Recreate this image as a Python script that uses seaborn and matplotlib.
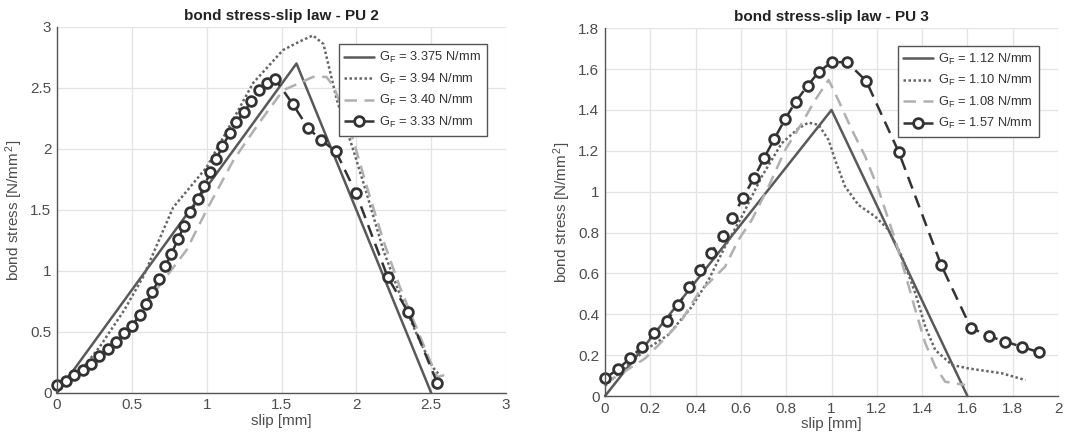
import numpy as np
import pandas as pd
import matplotlib
matplotlib.use("Agg")
import matplotlib.pyplot as plt
import seaborn as sns

# ---------------- data: PU 2 ----------------
pu2_lin_x = [0.0, 1.6, 2.5]
pu2_lin_y = [0.0, 2.7, 0.0]

pu2_dot_x = [0.0, 0.15, 0.285, 0.45, 0.575, 0.776, 1.0, 1.15, 1.31, 1.51, 1.62, 1.71, 1.78, 1.87, 1.98, 2.07, 2.18, 2.29, 2.40, 2.51, 2.56]
pu2_dot_y = [0.05, 0.17, 0.377, 0.68, 0.95, 1.52, 1.85, 2.18, 2.54, 2.81, 2.88, 2.93, 2.86, 2.40, 1.99, 1.63, 1.17, 0.81, 0.49, 0.21, 0.14]

pu2_dash_x = [0.0, 0.3, 0.5, 0.66, 0.865, 1.0, 1.18, 1.36, 1.51, 1.62, 1.71, 1.80, 1.85, 1.98, 2.07, 2.18, 2.29, 2.40, 2.49, 2.54, 2.63]
pu2_dash_y = [0.05, 0.28, 0.55, 0.84, 1.17, 1.50, 1.91, 2.23, 2.48, 2.54, 2.59, 2.59, 2.51, 2.07, 1.69, 1.25, 0.87, 0.54, 0.27, 0.13, 0.16]

pu2_exp_x = [0.0, 0.058, 0.111, 0.174, 0.229, 0.281, 0.341, 0.392, 0.446, 0.504, 0.553, 0.593, 0.637, 0.682,
             0.724, 0.764, 0.809, 0.849, 0.891, 0.943, 0.985, 1.025, 1.065, 1.105, 1.155, 1.199, 1.248, 1.299,
             1.351, 1.40, 1.458, 1.574, 1.678, 1.767, 1.863, 1.997, 2.209, 2.347, 2.541]
pu2_exp_y = [0.063, 0.10, 0.145, 0.19, 0.24, 0.30, 0.36, 0.42, 0.49, 0.55, 0.64, 0.73, 0.83, 0.93,
             1.04, 1.14, 1.26, 1.37, 1.48, 1.59, 1.70, 1.81, 1.92, 2.02, 2.13, 2.22, 2.30, 2.39,
             2.48, 2.54, 2.57, 2.37, 2.17, 2.07, 1.98, 1.64, 0.95, 0.66, 0.08]

pu2_labels = [r"G$_F$ = 3.375 N/mm", r"G$_F$ = 3.94 N/mm", r"G$_F$ = 3.40 N/mm", r"G$_F$ = 3.33 N/mm"]

# ---------------- data: PU 3 ----------------
pu3_lin_x = [0.0, 1.0, 1.6]
pu3_lin_y = [0.0, 1.4, 0.0]

pu3_dot_x = [0.0, 0.08, 0.177, 0.28, 0.383, 0.457, 0.53, 0.604, 0.692, 0.78, 0.854, 0.898, 0.943, 0.987, 1.016,
             1.06, 1.119, 1.193, 1.252, 1.311, 1.37, 1.414, 1.458, 1.532, 1.605, 1.753, 1.856]
pu3_dot_y = [0.05, 0.13, 0.225, 0.30, 0.437, 0.568, 0.731, 0.878, 1.074, 1.237, 1.31, 1.338, 1.327, 1.253, 1.155,
             1.025, 0.935, 0.878, 0.813, 0.682, 0.503, 0.339, 0.225, 0.152, 0.135, 0.111, 0.078]

pu3_dash_x = [0.0, 0.074, 0.177, 0.265, 0.339, 0.412, 0.471, 0.53, 0.589, 0.648, 0.722, 0.795, 0.869, 0.928, 0.987,
              1.016, 1.09, 1.149, 1.208, 1.281, 1.325, 1.37, 1.414, 1.458, 1.502, 1.59]
pu3_dash_y = [0.062, 0.111, 0.184, 0.282, 0.372, 0.503, 0.568, 0.633, 0.764, 0.862, 1.025, 1.204, 1.335, 1.449, 1.547,
              1.482, 1.302, 1.172, 1.008, 0.764, 0.60, 0.421, 0.258, 0.144, 0.07, 0.054]

pu3_exp_x = [0.0, 0.056, 0.110, 0.165, 0.218, 0.274, 0.324, 0.373, 0.420, 0.468, 0.520, 0.562, 0.608, 0.657, 0.702,
             0.748, 0.795, 0.842, 0.894, 0.945, 1.001, 1.068, 1.153, 1.296, 1.484, 1.615, 1.694, 1.767, 1.841, 1.915]
pu3_exp_y = [0.086, 0.131, 0.184, 0.242, 0.307, 0.369, 0.446, 0.532, 0.617, 0.702, 0.783, 0.873, 0.968, 1.066, 1.164,
             1.260, 1.355, 1.441, 1.518, 1.588, 1.634, 1.634, 1.542, 1.196, 0.641, 0.334, 0.294, 0.266, 0.241, 0.214]

pu3_labels = [r"G$_F$ = 1.12 N/mm", r"G$_F$ = 1.10 N/mm", r"G$_F$ = 1.08 N/mm", r"G$_F$ = 1.57 N/mm"]

# ---------------- style ----------------
sns.set_theme(style="whitegrid")
plt.rcParams["font.family"] = ["Liberation Sans", "DejaVu Sans"]
plt.rcParams["mathtext.default"] = "regular"
plt.rcParams["mathtext.fontset"] = "custom"
plt.rcParams["mathtext.rm"] = "Liberation Sans"

TXT = "#4d4d4d"
C_LIN = "#595959"
C_DOT = "#666666"
C_DASH = "#b0b0b0"
C_EXP = "#333333"

fig = plt.figure(figsize=(10.71, 4.41), dpi=100)
ax1 = fig.add_axes([0.0532, 0.109, 0.4193, 0.830])
ax2 = fig.add_axes([0.5649, 0.102, 0.4230, 0.834])


def draw(ax, lin, dot, dash, exp, labels):
    sns.lineplot(x=lin[0], y=lin[1], ax=ax, color=C_LIN, lw=1.8, sort=False, estimator=None, label=labels[0])
    sns.lineplot(x=dot[0], y=dot[1], ax=ax, color=C_DOT, lw=1.8, linestyle=(0, (1, 1)), sort=False,
                 estimator=None, label=labels[1])
    sns.lineplot(x=dash[0], y=dash[1], ax=ax, color=C_DASH, lw=1.8, linestyle=(0, (5, 3)), sort=False,
                 estimator=None, label=labels[2])
    sns.lineplot(x=exp[0], y=exp[1], ax=ax, color=C_EXP, lw=1.8, linestyle=(0, (5, 3)), sort=False,
                 estimator=None, marker="o", markersize=7, markerfacecolor="white",
                 markeredgecolor=C_EXP, markeredgewidth=2.0, label=labels[3])


def style(ax, title, xlim, ylim, xticks, yticks, xtl, ytl):
    ax.set_xlim(*xlim)
    ax.set_ylim(*ylim)
    ax.set_xticks(xticks)
    ax.set_yticks(yticks)
    ax.set_xticklabels(xtl)
    ax.set_yticklabels(ytl)
    ax.grid(True, color="#e3e3e3", lw=0.9)
    ax.set_facecolor("white")
    for s in ["top", "right"]:
        ax.spines[s].set_visible(False)
    for s in ["left", "bottom"]:
        ax.spines[s].set_color("#555555")
        ax.spines[s].set_linewidth(1.0)
    ax.tick_params(axis="both", colors=TXT, labelsize=11, direction="in", length=3, width=0.8, pad=4,
                   labelcolor=TXT)
    ax.set_title(title, fontsize=11, fontweight="bold", color="#222222", pad=5)
    ax.set_xlabel("slip [mm]", fontsize=11, color=TXT, labelpad=1)
    ax.set_ylabel(r"bond stress [N/mm$^{\,2}$]", fontsize=11, color=TXT, labelpad=4)
    leg = ax.legend(loc="upper right", bbox_to_anchor=(0.972, 0.97), fontsize=9.3, frameon=True,
                    fancybox=False, edgecolor="#555555", framealpha=1, handlelength=2.3,
                    borderpad=0.45, labelspacing=0.5, handletextpad=0.4)
    leg.get_frame().set_linewidth(1.0)
    for t in leg.get_texts():
        t.set_color("#333333")
    for ln in ax.get_lines():
        ln.set_clip_on(False)


draw(ax1, (pu2_lin_x, pu2_lin_y), (pu2_dot_x, pu2_dot_y), (pu2_dash_x, pu2_dash_y), (pu2_exp_x, pu2_exp_y),
     pu2_labels)
style(ax1, "bond stress-slip law - PU 2", (0, 3), (0, 3),
      [0, 0.5, 1, 1.5, 2, 2.5, 3], [0, 0.5, 1, 1.5, 2, 2.5, 3],
      ["0", "0.5", "1", "1.5", "2", "2.5", "3"], ["0", "0.5", "1", "1.5", "2", "2.5", "3"])

draw(ax2, (pu3_lin_x, pu3_lin_y), (pu3_dot_x, pu3_dot_y), (pu3_dash_x, pu3_dash_y), (pu3_exp_x, pu3_exp_y),
     pu3_labels)
xt = [0, 0.2, 0.4, 0.6, 0.8, 1.0, 1.2, 1.4, 1.6, 1.8, 2.0]
yt = [0, 0.2, 0.4, 0.6, 0.8, 1.0, 1.2, 1.4, 1.6, 1.8]
style(ax2, "bond stress-slip law - PU 3", (0, 2), (0, 1.8), xt, yt,
      ["0", "0.2", "0.4", "0.6", "0.8", "1", "1.2", "1.4", "1.6", "1.8", "2"],
      ["0", "0.2", "0.4", "0.6", "0.8", "1", "1.2", "1.4", "1.6", "1.8"])

fig.savefig("out.png", dpi=100, facecolor="white")
